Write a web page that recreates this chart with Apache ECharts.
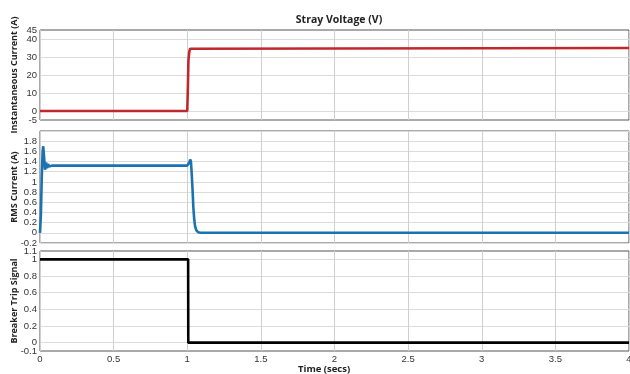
<!DOCTYPE html>
<html>
<head>
<meta charset="utf-8">
<script src="https://cdn.jsdelivr.net/npm/echarts@6/dist/echarts.min.js"></script>
<style>html,body{margin:0;padding:0;background:#fff;}#c{width:630px;height:374px;}</style>
</head>
<body>
<div id="c"></div>
<script>
// Instantaneous current (A)
const instTime   = [0, 1.0, 1.004, 1.008, 1.014, 1.02, 1.025, 4];
const instValues = [0, 0,   12,    28,    33,    34.6, 35,   35];
// RMS current (A)
const rmsTime   = [0, 0.006, 0.012, 0.018, 0.022, 0.028, 0.034, 0.041, 0.048, 0.055, 0.062, 0.07, 0.08, 1.0, 1.007, 1.014, 1.02, 1.025, 1.03, 1.036, 1.041, 1.047, 1.053, 1.062, 1.075, 1.09, 4];
const rmsValues = [0, 0.35,  1.1,   1.6,   1.70,  1.48,  1.24,  1.38,  1.27,  1.35,  1.30,  1.33, 1.32, 1.32, 1.33, 1.38, 1.44, 1.40, 1.18, 0.85, 0.52, 0.28, 0.13, 0.05, 0.01, 0, 0];
// Breaker trip signal
const tripTime   = [0, 1.006, 1.007, 4];
const tripValues = [1, 1,     0,     0];
// Axis ranges and tick labels
const xRange    = [0, 4];      const xStep   = 0.5;
const instRange = [-5, 45];
const instTicksA = [0, 20, 40];
const instTicksB = [10, 30];
const instEdge   = [-5, 45];
const rmsRange  = [-0.2, 2.0]; const rmsStep = 0.2;
const tripRange = [-0.1, 1.1];
const tripTicks = [0, 0.2, 0.4, 0.6, 0.8, 1];
const tripEdge  = [-0.1, 1.1];
const yNames = ['Instantaneous Current (A)', 'RMS Current (A)', 'Breaker Trip Signal'];

const zip = (a, b) => a.map((t, i) => [t, b[i]]);
const font = 'Liberation Sans, Arial, sans-serif';
const nameFont = '"Open Sans", "Liberation Sans", sans-serif';

const gridBoxes = [
  {left: 40, width: 589, top: 30, height: 90},
  {left: 40, width: 589, top: 131, height: 112},
  {left: 40, width: 589, top: 251, height: 100}
];
const grids = gridBoxes.map(g => Object.assign({}, g, {show: true, borderColor: '#555', borderWidth: 1,
  backgroundColor: '#fff', containLabel: false, outerBoundsMode: 'none'}));

const labelStyle = {fontSize: 9.5, color: '#333', fontFamily: font, margin: 3, hideOverlap: false};
const gridLine = {lineStyle: {color: '#dcdcdc', width: 1}};

function xAxis(i, showLabel) {
  return {
    type: 'value', gridIndex: i, min: xRange[0], max: xRange[1], interval: xStep,
    axisLine: {show: false}, axisTick: {show: false},
    axisLabel: Object.assign({show: showLabel, showMinLabel: true, showMaxLabel: true}, labelStyle),
    splitLine: {show: true, lineStyle: {color: '#cfcfcf', width: 1}}
  };
}
function customAxis(i, range, ticks, split) {
  return {
    type: 'value', gridIndex: i, min: range[0], max: range[1], position: 'left', offset: 0,
    axisLine: {show: false},
    axisTick: {show: false, customValues: ticks},
    axisLabel: Object.assign({customValues: ticks}, labelStyle),
    splitLine: Object.assign({show: split}, gridLine)
  };
}
// same range expressed in tenths so the label positions are integers; labels show the real values
function tenthsAxis(i, range, ticks) {
  const t = ticks.map(v => Math.round(v * 10));
  return {
    type: 'value', gridIndex: i, min: Math.round(range[0] * 10), max: Math.round(range[1] * 10),
    position: 'left', offset: 0,
    axisLine: {show: false},
    axisTick: {show: false, customValues: t},
    axisLabel: Object.assign({customValues: t, formatter: v => String(Math.round(v) / 10)}, labelStyle),
    splitLine: Object.assign({show: true}, gridLine)
  };
}
function stepAxis(i, range, step) {
  return {
    type: 'value', gridIndex: i, min: range[0], max: range[1], interval: step,
    axisLine: {show: false}, axisTick: {show: false},
    axisLabel: Object.assign({showMinLabel: true, showMaxLabel: false}, labelStyle),
    splitLine: Object.assign({show: true}, gridLine)
  };
}
// rotated axis titles, centred on each panel
const nameGraphics = gridBoxes.map((g, i) => ({
  type: 'text', x: 14, y: g.top + g.height / 2, rotation: Math.PI / 2,
  style: {text: yNames[i], fill: '#222', font: 'bold 9px ' + nameFont, align: 'center', verticalAlign: 'middle'}
}));

const chart = echarts.init(document.getElementById('c'), null, {renderer: 'canvas'});
chart.setOption({
  animation: false,
  backgroundColor: '#fff',
  title: {text: 'Stray Voltage (V)', left: 334, top: 10, textAlign: 'center',
    textStyle: {fontSize: 10.5, fontWeight: 'bold', color: '#222', fontFamily: nameFont}},
  grid: grids,
  xAxis: [xAxis(0, false), xAxis(1, false), xAxis(2, true)],
  yAxis: [
    customAxis(0, instRange, instTicksA, true),
    stepAxis(1, rmsRange, rmsStep),
    customAxis(2, tripRange, tripEdge, false),
    customAxis(0, instRange, instTicksB, true),
    customAxis(0, instRange, instEdge, false),
    tenthsAxis(2, tripRange, tripTicks)
  ],
  graphic: nameGraphics.concat([{type: 'text', left: 298, top: 364,
    style: {text: 'Time (secs)', fill: '#222', font: 'bold 9.5px ' + nameFont}}]),
  series: [
    {type: 'line', xAxisIndex: 0, yAxisIndex: 0, data: zip(instTime, instValues), showSymbol: false,
      lineStyle: {color: '#c0282d', width: 2.6}, itemStyle: {color: '#c0282d'}},
    {type: 'line', xAxisIndex: 1, yAxisIndex: 1, data: zip(rmsTime, rmsValues), showSymbol: false,
      lineStyle: {color: '#1a72b0', width: 2.6}, itemStyle: {color: '#1a72b0'}},
    {type: 'line', xAxisIndex: 2, yAxisIndex: 2, data: zip(tripTime, tripValues), showSymbol: false,
      lineStyle: {color: '#000', width: 2.6}, itemStyle: {color: '#000'}}
  ]
});
</script>
</body>
</html>
